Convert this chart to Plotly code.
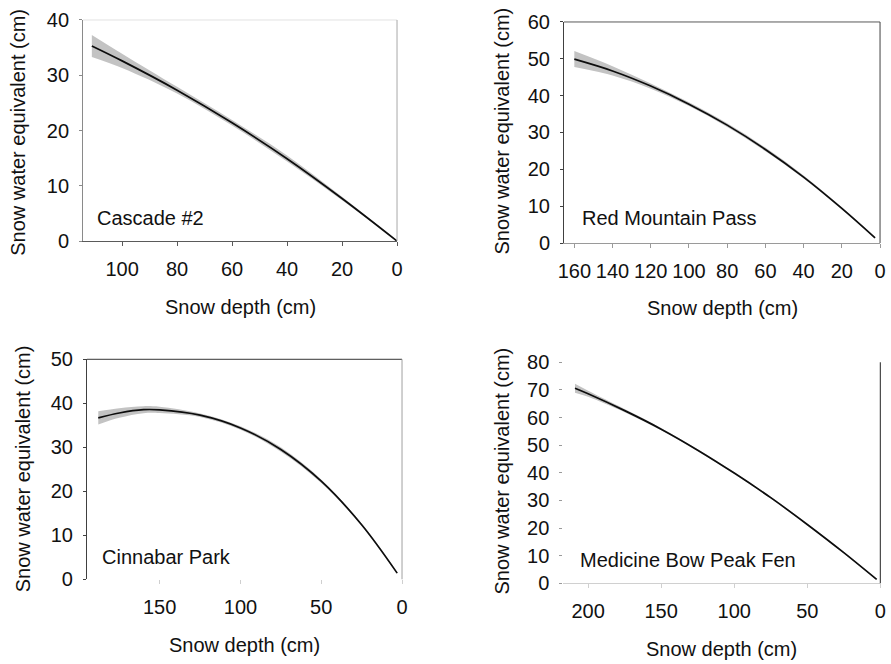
import plotly.graph_objects as go

# ---- Cascade #2 ----
cas_depth = [111, 100, 80, 60, 40, 20, 0]
cas_swe = [35.3, 32.6, 27.3, 21.4, 14.9, 7.7, 0.0]
cas_hi = [37.3, 33.9, 27.9, 21.9, 15.5, 8.0, 0.05]
cas_lo = [33.3, 31.3, 26.7, 20.9, 14.4, 7.4, 0.0]

# ---- Red Mountain Pass ----
rmp_depth = [160, 140, 120, 100, 80, 60, 40, 20, 2.6]
rmp_swe = [49.9, 46.7, 42.6, 37.7, 32.0, 25.4, 17.9, 9.4, 1.4]
rmp_hi = [52.1, 48.0, 43.3, 38.2, 32.5, 25.9, 18.3, 9.7, 1.6]
rmp_lo = [47.8, 45.5, 41.9, 37.2, 31.5, 24.9, 17.5, 9.1, 1.2]

# ---- Cinnabar Park ----
cin_depth = [188, 175, 160, 150, 125, 100, 75, 50, 25, 3]
cin_swe = [36.7, 37.8, 38.55, 38.5, 37.3, 34.4, 29.5, 22.3, 12.4, 1.4]
cin_hi = [38.2, 38.9, 39.35, 39.2, 37.7, 34.8, 30.0, 22.7, 12.65, 1.6]
cin_lo = [35.2, 36.7, 37.75, 37.8, 36.9, 34.0, 29.0, 21.9, 12.15, 1.2]

# ---- Medicine Bow Peak Fen ----
mbf_depth = [209, 200, 175, 150, 125, 100, 75, 50, 25, 2.5]
mbf_swe = [70.6, 68.6, 62.5, 55.8, 48.2, 39.9, 31.0, 21.3, 11.1, 1.4]
mbf_hi = [72.2, 69.7, 63.1, 56.2, 48.5, 40.2, 31.3, 21.6, 11.35, 1.6]
mbf_lo = [69.0, 67.5, 61.9, 55.4, 47.9, 39.6, 30.7, 21.0, 10.85, 1.2]

site_names = ["Cascade #2", "Red Mountain Pass", "Cinnabar Park", "Medicine Bow Peak Fen"]
x_title = "Snow depth (cm)"
y_title = "Snow water equivalent (cm)"

FONT = "Liberation Sans, Arial, sans-serif"
BAND = "#c3c3c3"
LINE = "#0d0d0d"

panels = [
    dict(d=cas_depth, s=cas_swe, hi=cas_hi, lo=cas_lo, xr=[114.2, 0], yr=[0, 40],
         xt=[0, 20, 40, 60, 80, 100], yt=[0, 10, 20, 30, 40],
         xdom=[0.0932, 0.4456], ydom=[0.6370, 0.9699],
         left="#8a8a8a", bottom="#5a5a5a", top="#e2e2e2", right="#a8a8a8",
         lab=(0.038, 0.104), xt_pos=(0.5, 0.5381), yt_pos=(0.0205, 0.8005)),
    dict(d=rmp_depth, s=rmp_swe, hi=rmp_hi, lo=rmp_lo, xr=[165.4, 0], yr=[0, 60],
         xt=[0, 20, 40, 60, 80, 100, 120, 140, 160], yt=[0, 10, 20, 30, 40, 50, 60],
         xdom=[0.6330, 0.9877], ydom=[0.6340, 0.9669],
         left="#404040", bottom="#9a9a9a", top="#5a5a5a", right="#404040",
         lab=(0.05, 0.112), xt_pos=(0.5, 0.5361), yt_pos=(0.5631, 0.803)),
    dict(d=cin_depth, s=cin_swe, hi=cin_hi, lo=cin_lo, xr=[195, 0], yr=[0, 50],
         xt=[0, 50, 100, 150], yt=[0, 10, 20, 30, 40, 50],
         xdom=[0.0976, 0.4512], ydom=[0.1276, 0.4589],
         left="#404040", bottom=None, top="#333333", right="#a0a0a0",
         lab=(0.041, 0.103), xt_pos=(0.5, 0.0286), yt_pos=(0.0262, 0.2937)),
    dict(d=mbf_depth, s=mbf_swe, hi=mbf_hi, lo=mbf_lo, xr=[217, 0], yr=[0, 80],
         xt=[0, 50, 100, 150, 200], yt=[0, 10, 20, 30, 40, 50, 60, 70, 80],
         xdom=[0.6322, 0.9880], ydom=[0.1215, 0.4544],
         left=None, bottom="#d0d0d0", top=None, right="#222222",
         lab=(0.047, 0.105), xt_pos=(0.5, 0.0221), yt_pos=(0.5631, 0.2910)),
]

fig = go.Figure()
annotations = []
shapes = []

for i, p in enumerate(panels):
    n = "" if i == 0 else str(i + 1)
    xa, ya = "x" + n, "y" + n
    # confidence band
    fig.add_trace(go.Scatter(x=p["d"], y=p["hi"], xaxis=xa, yaxis=ya, mode="lines",
                             line=dict(width=0, shape="spline", color=BAND),
                             showlegend=False, hoverinfo="skip"))
    fig.add_trace(go.Scatter(x=p["d"], y=p["lo"], xaxis=xa, yaxis=ya, mode="lines",
                             line=dict(width=0, shape="spline", color=BAND),
                             fill="tonexty", fillcolor=BAND,
                             showlegend=False, hoverinfo="skip"))
    # fitted curve
    fig.add_trace(go.Scatter(x=p["d"], y=p["s"], xaxis=xa, yaxis=ya, mode="lines",
                             line=dict(width=1.7, shape="spline", color=LINE),
                             showlegend=False, name=site_names[i]))

    xcol = p["bottom"] or "#cfcfcf"
    ycol = p["left"] or "#9a9a9a"
    fig.update_layout(**{
        "xaxis" + n: dict(domain=p["xdom"], anchor=ya, range=p["xr"],
                          tickvals=p["xt"], ticktext=[str(v) for v in p["xt"]],
                          showline=p["bottom"] is not None, linecolor=xcol, linewidth=1,
                          ticks="outside", ticklen=4, tickcolor=xcol, tickwidth=1,
                          showgrid=False, zeroline=False, ticklabelstandoff=6,
                          tickfont=dict(family=FONT, size=20, color="#111111"),
                          automargin=False, fixedrange=True),
        "yaxis" + n: dict(domain=p["ydom"], anchor=xa, range=p["yr"],
                          tickvals=p["yt"], ticktext=[str(v) for v in p["yt"]],
                          showline=p["left"] is not None, linecolor=ycol, linewidth=1,
                          ticks="outside", ticklen=3, tickcolor=ycol, tickwidth=1,
                          showgrid=False, zeroline=False, ticklabelstandoff=6,
                          tickfont=dict(family=FONT, size=20, color="#111111"),
                          automargin=False, fixedrange=True),
    })

    # top and right frame edges
    if p["top"]:
        shapes.append(dict(type="line", xref=xa + " domain", yref=ya + " domain",
                           x0=0, x1=1, y0=1, y1=1, line=dict(color=p["top"], width=1)))
    if p["right"]:
        shapes.append(dict(type="line", xref=xa + " domain", yref=ya + " domain",
                           x0=1, x1=1, y0=0, y1=1, line=dict(color=p["right"], width=1)))

    # site label
    annotations.append(dict(text=site_names[i], xref=xa + " domain", yref=ya + " domain",
                            x=p["lab"][0], y=p["lab"][1], xanchor="left", yanchor="middle",
                            showarrow=False, font=dict(family=FONT, size=20, color="#111111")))
    # axis titles
    annotations.append(dict(text=x_title, xref=xa + " domain", yref="paper",
                            x=p["xt_pos"][0], y=p["xt_pos"][1], xanchor="center", yanchor="middle",
                            showarrow=False, font=dict(family=FONT, size=20, color="#111111")))
    annotations.append(dict(text=y_title, xref="paper", yref="paper", textangle=-90,
                            x=p["yt_pos"][0], y=p["yt_pos"][1], xanchor="center", yanchor="middle",
                            showarrow=False, font=dict(family=FONT, size=20, color="#111111")))

fig.update_layout(width=891, height=664, margin=dict(l=0, r=0, t=0, b=0),
                  paper_bgcolor="white", plot_bgcolor="white",
                  annotations=annotations, shapes=shapes, showlegend=False,
                  font=dict(family=FONT, size=20, color="#111111"))

fig.write_html("out.html", config={"displayModeBar": False})
